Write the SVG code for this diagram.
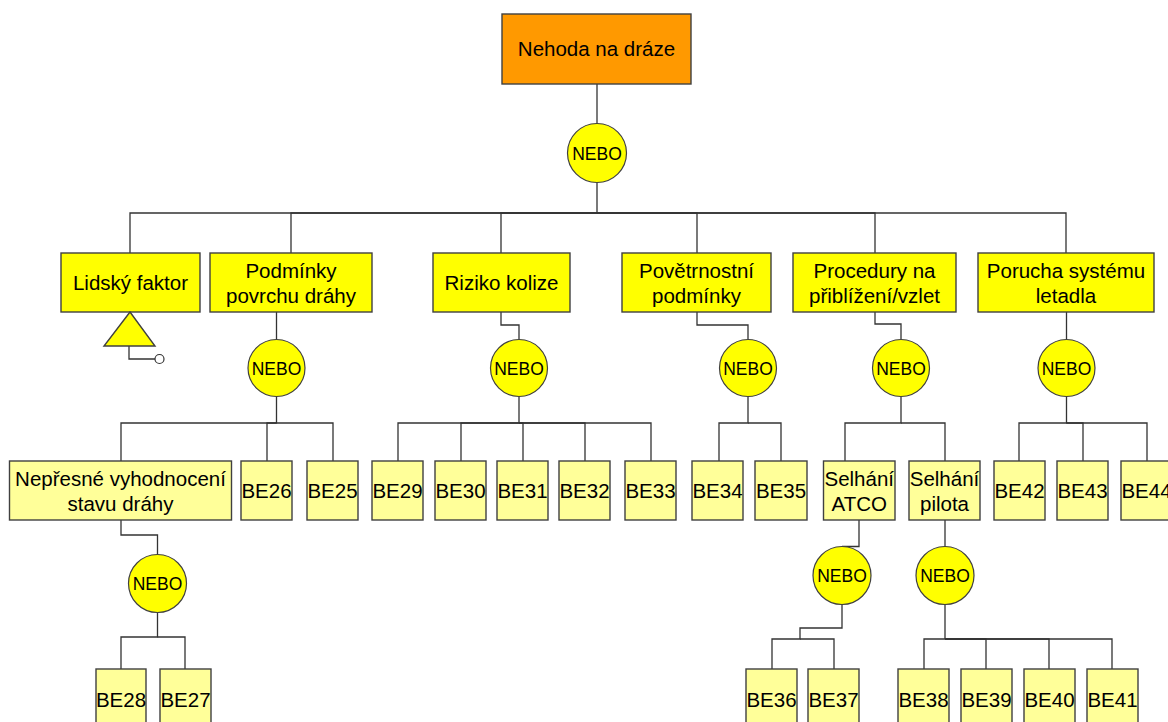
<svg xmlns="http://www.w3.org/2000/svg" width="1168" height="722" viewBox="0 0 1168 722">
  <style>
    .top { fill: #ff9900; stroke: #404040; stroke-width: 1.4; }
    .evt { fill: #ffff00; stroke: #404040; stroke-width: 1.4; }
    .be { fill: #ffff99; stroke: #404040; stroke-width: 1.4; }
    .gate { fill: #ffff00; stroke: #404040; stroke-width: 1.2; }
    .wire { fill: none; stroke: #333333; stroke-width: 1.3; }
    text { font-family: "Liberation Sans", Arial, sans-serif; font-size: 20.5px; fill: #000; text-anchor: middle; }
    .gt { font-size: 17.5px; }
  </style>

  <rect width="1168" height="722" fill="#ffffff"/>

  <!-- connectors -->
  <g id="connectors" class="wire">
    <!-- top event to root gate -->
    <path d="M597,84 V123.5"/>
    <!-- root gate to level-1 events -->
    <path d="M597,182.5 V213 H130 V253"/>
    <path d="M597,213 H291 V253"/>
    <path d="M597,213 H501 V253"/>
    <path d="M597,213 H697 V253"/>
    <path d="M597,213 H875 V253"/>
    <path d="M597,213 H1066 V253"/>
    <!-- level-1 events to their gates -->
    <path d="M276.5,312 V339.5"/>
    <path d="M501,312 V325 H519 V339.5"/>
    <path d="M697,312 V325 H748 V339.5"/>
    <path d="M875,312 V324 H901 V339.5"/>
    <path d="M1066.5,312 V339.5"/>
    <!-- Podminky povrchu drahy gate -->
    <path d="M276.5,396.5 V423 H121 V461"/>
    <path d="M276.5,423 H267 V461"/>
    <path d="M276.5,423 H333 V461"/>
    <!-- Riziko kolize gate -->
    <path d="M519,396.5 V423 H398 V461"/>
    <path d="M519,423 H461 V461"/>
    <path d="M519,423 H523 V461"/>
    <path d="M519,423 H585 V461"/>
    <path d="M519,423 H651 V461"/>
    <!-- Povetrnostni podminky gate -->
    <path d="M748,396.5 V423 H719 V461"/>
    <path d="M748,423 H781 V461"/>
    <!-- Procedury gate -->
    <path d="M901,396.5 V423 H845 V461"/>
    <path d="M901,423 H945 V461"/>
    <!-- Porucha systemu gate -->
    <path d="M1066.5,396.5 V423 H1019 V461"/>
    <path d="M1066.5,423 H1083 V461"/>
    <path d="M1066.5,423 H1147 V461"/>
    <!-- Nepresne vyhodnoceni -->
    <path d="M121,520 V535 H157.5 V554.5"/>
    <path d="M157.5,612.5 V637 H121 V669"/>
    <path d="M157.5,637 H185 V669"/>
    <!-- Selhani ATCO -->
    <path d="M859,520 V546.5 H842"/>
    <path d="M842,604.5 V628 H800 V639 H772 V669"/>
    <path d="M800,639 H834 V669"/>
    <!-- Selhani pilota -->
    <path d="M945,520 V546.5"/>
    <path d="M945,604.5 V639 H924 V669"/>
    <path d="M945,639 H986 V669"/>
    <path d="M945,639 H1049 V669"/>
    <path d="M945,639 H1112 V669"/>
    <!-- transfer symbol tail -->
    <path d="M129,346 V359 H155"/>
  </g>

  <!-- top event -->
  <g id="top-event">
    <rect class="top" x="502" y="14" width="189" height="70"/>
    <text x="596.5" y="56">Nehoda na dráze</text>
  </g>
  <g id="gate-root">
    <circle class="gate" cx="597" cy="153" r="29.5"/>
    <text class="gt" x="597" y="159.5">NEBO</text>
  </g>

  <!-- level 1 events -->
  <g id="lidsky-faktor">
    <rect class="evt" x="61" y="253" width="139" height="59"/>
    <text x="130.5" y="290">Lidský faktor</text>
    <polygon class="evt" points="130,312 155,346 104,346"/>
    <circle cx="159.5" cy="359" r="4.5" fill="#ffffff" stroke="#333333" stroke-width="1.2"/>
  </g>
  <g id="podminky-povrchu">
    <rect class="evt" x="210" y="253" width="162" height="59"/>
    <text x="291" y="278">Podmínky</text>
    <text x="291" y="303">povrchu dráhy</text>
  </g>
  <g id="riziko-kolize">
    <rect class="evt" x="433" y="253" width="137" height="59"/>
    <text x="501.5" y="290">Riziko kolize</text>
  </g>
  <g id="povetrnostni-podminky">
    <rect class="evt" x="622" y="253" width="149" height="59"/>
    <text x="696.5" y="278">Povětrnostní</text>
    <text x="696.5" y="303">podmínky</text>
  </g>
  <g id="procedury">
    <rect class="evt" x="793" y="253" width="163" height="59"/>
    <text x="874.5" y="278">Procedury na</text>
    <text x="874.5" y="303">přiblížení/vzlet</text>
  </g>
  <g id="porucha-systemu">
    <rect class="evt" x="978" y="253" width="176" height="59"/>
    <text x="1066" y="278">Porucha systému</text>
    <text x="1066" y="303">letadla</text>
  </g>

  <!-- level 1 gates -->
  <g id="gate-podminky">
    <circle class="gate" cx="276.5" cy="368" r="28.5"/>
    <text class="gt" x="276.5" y="374.5">NEBO</text>
  </g>
  <g id="gate-riziko">
    <circle class="gate" cx="519" cy="368" r="28.5"/>
    <text class="gt" x="519" y="374.5">NEBO</text>
  </g>
  <g id="gate-pocasi">
    <circle class="gate" cx="748" cy="368" r="28.5"/>
    <text class="gt" x="748" y="374.5">NEBO</text>
  </g>
  <g id="gate-procedury">
    <circle class="gate" cx="901" cy="368" r="28.5"/>
    <text class="gt" x="901" y="374.5">NEBO</text>
  </g>
  <g id="gate-porucha">
    <circle class="gate" cx="1066.5" cy="368" r="28.5"/>
    <text class="gt" x="1066.5" y="374.5">NEBO</text>
  </g>

  <!-- level 2 events -->
  <g id="nepresne-vyhodnoceni">
    <rect class="be" x="9.5" y="461" width="222" height="59"/>
    <text x="120.5" y="485.5">Nepřesné vyhodnocení</text>
    <text x="120.5" y="510.5">stavu dráhy</text>
  </g>
  <g id="be26"><rect class="be" x="241" y="461" width="51" height="59"/><text x="266.5" y="498">BE26</text></g>
  <g id="be25"><rect class="be" x="307" y="461" width="51" height="59"/><text x="332.5" y="498">BE25</text></g>
  <g id="be29"><rect class="be" x="372" y="461" width="51" height="59"/><text x="397.5" y="498">BE29</text></g>
  <g id="be30"><rect class="be" x="435" y="461" width="51" height="59"/><text x="460.5" y="498">BE30</text></g>
  <g id="be31"><rect class="be" x="497" y="461" width="51" height="59"/><text x="522.5" y="498">BE31</text></g>
  <g id="be32"><rect class="be" x="559" y="461" width="51" height="59"/><text x="584.5" y="498">BE32</text></g>
  <g id="be33"><rect class="be" x="625" y="461" width="51" height="59"/><text x="650.5" y="498">BE33</text></g>
  <g id="be34"><rect class="be" x="692" y="461" width="51" height="59"/><text x="717.5" y="498">BE34</text></g>
  <g id="be35"><rect class="be" x="755" y="461" width="52" height="59"/><text x="781" y="498">BE35</text></g>
  <g id="selhani-atco">
    <rect class="be" x="823.5" y="461" width="71.5" height="59"/>
    <text x="859.25" y="485.5">Selhání</text>
    <text x="859.25" y="510.5">ATCO</text>
  </g>
  <g id="selhani-pilota">
    <rect class="be" x="909" y="461" width="71" height="59"/>
    <text x="944.5" y="485.5">Selhání</text>
    <text x="944.5" y="510.5">pilota</text>
  </g>
  <g id="be42"><rect class="be" x="994" y="461" width="51" height="59"/><text x="1019.5" y="498">BE42</text></g>
  <g id="be43"><rect class="be" x="1057" y="461" width="51" height="59"/><text x="1082.5" y="498">BE43</text></g>
  <g id="be44"><rect class="be" x="1121" y="461" width="51" height="59"/><text x="1146.5" y="498">BE44</text></g>

  <!-- level 2 gates -->
  <g id="gate-nepresne">
    <circle class="gate" cx="157.5" cy="583.5" r="29"/>
    <text class="gt" x="157.5" y="590">NEBO</text>
  </g>
  <g id="gate-atco">
    <circle class="gate" cx="842" cy="575.5" r="29"/>
    <text class="gt" x="842" y="582">NEBO</text>
  </g>
  <g id="gate-pilota">
    <circle class="gate" cx="945" cy="575.5" r="29"/>
    <text class="gt" x="945" y="582">NEBO</text>
  </g>

  <!-- level 3 basic events -->
  <g id="be28"><rect class="be" x="96" y="669" width="50" height="59"/><text x="121" y="706.5">BE28</text></g>
  <g id="be27"><rect class="be" x="160" y="669" width="51" height="59"/><text x="185.5" y="706.5">BE27</text></g>
  <g id="be36"><rect class="be" x="746" y="669" width="51" height="59"/><text x="771.5" y="706.5">BE36</text></g>
  <g id="be37"><rect class="be" x="808" y="669" width="51" height="59"/><text x="833.5" y="706.5">BE37</text></g>
  <g id="be38"><rect class="be" x="898" y="669" width="51" height="59"/><text x="923.5" y="706.5">BE38</text></g>
  <g id="be39"><rect class="be" x="961" y="669" width="51" height="59"/><text x="986.5" y="706.5">BE39</text></g>
  <g id="be40"><rect class="be" x="1024" y="669" width="51" height="59"/><text x="1049.5" y="706.5">BE40</text></g>
  <g id="be41"><rect class="be" x="1087" y="669" width="51" height="59"/><text x="1112.5" y="706.5">BE41</text></g>
</svg>
